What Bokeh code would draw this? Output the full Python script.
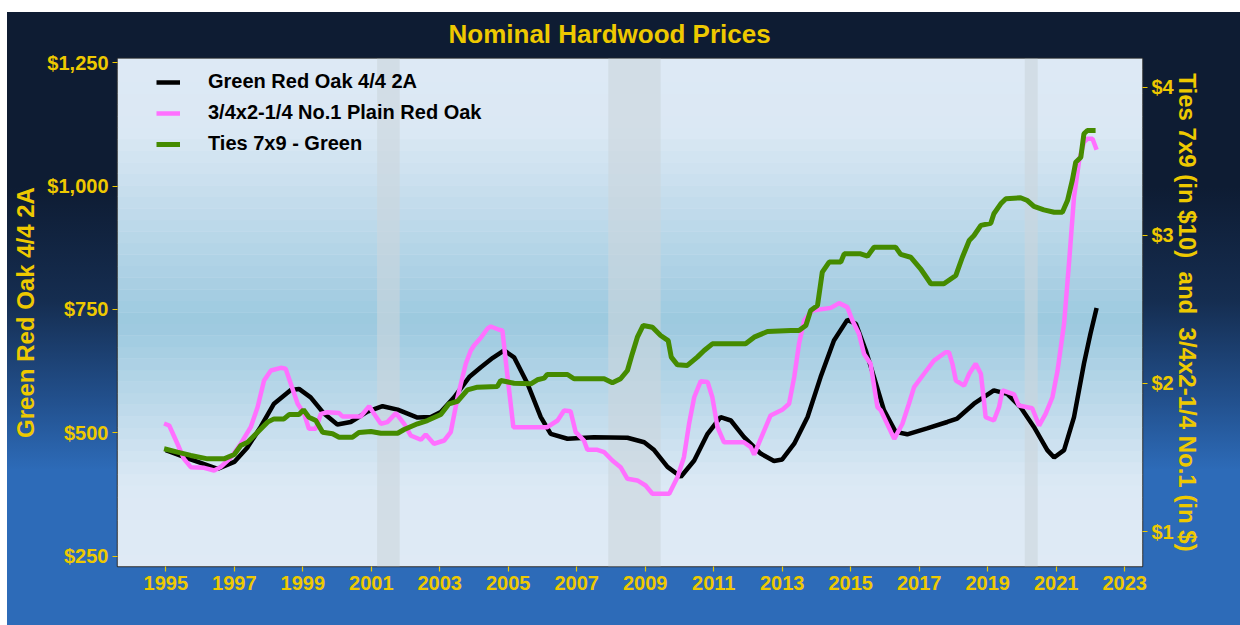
import numpy as np
from bokeh.plotting import figure
from bokeh.models import (Range1d, LinearAxis, FixedTicker, NumeralTickFormatter,
                          BoxAnnotation, InlineStyleSheet, Legend)
from bokeh.embed import file_html
from bokeh.resources import INLINE

# ---------------- data ----------------
oak_year = [1995.0, 1995.53, 1996.02, 1996.51, 1997.0, 1997.39, 1997.77, 1998.16, 1998.65, 1998.89,
            1999.23, 1999.62, 2000.01, 2000.4, 2000.89, 2001.33, 2001.77, 2002.35, 2002.74, 2003.03,
            2003.42, 2003.86, 2004.2, 2004.55, 2004.88, 2005.17, 2005.56, 2005.95, 2006.24, 2006.73,
            2007.5, 2008.48, 2008.97, 2009.26, 2009.65, 2010.04, 2010.43, 2010.82, 2011.2, 2011.5,
            2011.88, 2012.37, 2012.76, 2013.0, 2013.35, 2013.74, 2014.12, 2014.51, 2014.9, 2015.15,
            2015.44, 2015.68, 2015.97, 2016.31, 2016.65, 2017.23, 2017.82, 2018.11, 2018.6, 2019.18,
            2019.57, 2019.96, 2020.35, 2020.74, 2020.94, 2021.23, 2021.52, 2021.81, 2022.0, 2022.18]
oak_price = [465, 451, 439, 427, 441, 471, 512, 559, 587, 589,
             572, 539, 517, 522, 543, 554, 547, 531, 532, 542,
             572, 613, 633, 652, 667, 653, 600, 532, 498, 488,
             491, 490, 481, 465, 431, 411, 444, 498, 532, 525,
             492, 458, 443, 446, 478, 532, 613, 687, 729, 721,
             667, 613, 546, 502, 497, 509, 522, 529, 559, 586,
             579, 552, 512, 465, 450, 465, 532, 640, 701, 753]

plain_year = [1994.95, 1995.1, 1995.34, 1995.53, 1995.73, 1996.12, 1996.41, 1996.6, 1996.9, 1997.19,
              1997.48, 1997.68, 1997.87, 1998.07, 1998.36, 1998.5, 1998.65, 1998.85, 1999.04, 1999.18,
              1999.38, 1999.53, 1999.72, 2000.06, 2000.16, 2000.69, 2000.94, 2001.08, 2001.28, 2001.47,
              2001.72, 2001.96, 2002.15, 2002.45, 2002.59, 2002.83, 2003.13, 2003.32, 2003.52, 2003.76,
              2003.9, 2004.0, 2004.2, 2004.39, 2004.49, 2004.73, 2004.83, 2004.98, 2005.15, 2006.14,
              2006.44, 2006.63, 2006.82, 2006.97, 2007.21, 2007.31, 2007.6, 2007.8, 2008.04, 2008.28,
              2008.48, 2008.77, 2009.01, 2009.21, 2009.7, 2009.94, 2010.13, 2010.28, 2010.43, 2010.62,
              2010.82, 2010.96, 2011.11, 2011.3, 2011.88, 2012.08, 2012.18, 2012.37, 2012.66, 2013.0,
              2013.2, 2013.35, 2013.49, 2013.64, 2013.88, 2014.42, 2014.66, 2014.9, 2015.05, 2015.24,
              2015.39, 2015.58, 2015.78, 2015.88, 2016.27, 2016.51, 2016.7, 2016.85, 2017.14, 2017.43,
              2017.77, 2017.87, 2017.97, 2018.07, 2018.31, 2018.46, 2018.65, 2018.8, 2018.89, 2018.94,
              2019.18, 2019.33, 2019.43, 2019.77, 2019.91, 2020.3, 2020.5, 2020.69, 2020.89, 2021.04,
              2021.23, 2021.38, 2021.52, 2021.67, 2021.81, 2021.91, 2022.06, 2022.18]
plain_price = [1.73, 1.716, 1.593, 1.491, 1.435, 1.43, 1.412, 1.435, 1.50, 1.593,
               1.705, 1.84, 2.02, 2.088, 2.106, 2.10, 1.998, 1.863, 1.795, 1.694,
               1.694, 1.795, 1.806, 1.80, 1.777, 1.777, 1.847, 1.795, 1.728, 1.739,
               1.80, 1.728, 1.649, 1.62, 1.655, 1.593, 1.615, 1.671, 1.907, 2.133,
               2.22, 2.257, 2.309, 2.37, 2.385, 2.363, 2.358, 2.043, 1.705, 1.705,
               1.75, 1.818, 1.813, 1.671, 1.615, 1.552, 1.552, 1.536, 1.48, 1.435,
               1.356, 1.345, 1.311, 1.255, 1.255, 1.367, 1.502, 1.728, 1.907, 2.016,
               2.01, 1.907, 1.705, 1.603, 1.603, 1.57, 1.52, 1.626, 1.784, 1.822,
               1.863, 2.043, 2.268, 2.426, 2.493, 2.511, 2.543, 2.516, 2.426, 2.336,
               2.2, 2.133, 1.84, 1.818, 1.626, 1.728, 1.863, 1.975, 2.066, 2.155,
               2.211, 2.211, 2.133, 2.02, 1.986, 2.066, 2.133, 2.066, 1.885, 1.772,
               1.75, 1.84, 1.953, 1.926, 1.851, 1.833, 1.716, 1.795, 1.907, 2.088,
               2.403, 2.831, 3.259, 3.507, 3.63, 3.653, 3.653, 3.579]

ties_year = [1994.95, 1995.34, 1995.73, 1996.22, 1996.7, 1997.0, 1997.19, 1997.39, 1997.68, 1997.97,
             1998.16, 1998.45, 1998.6, 1998.89, 1999.02, 1999.18, 1999.38, 1999.58, 1999.87, 2000.06,
             2000.45, 2000.64, 2000.99, 2001.28, 2001.77, 2001.96, 2002.35, 2002.64, 2003.03, 2003.27,
             2003.52, 2003.81, 2004.1, 2004.68, 2004.78, 2005.17, 2005.66, 2005.85, 2006.05, 2006.14,
             2006.73, 2006.92, 2007.8, 2008.04, 2008.28, 2008.48, 2008.62, 2008.77, 2008.94, 2009.21,
             2009.45, 2009.67, 2009.76, 2009.94, 2010.23, 2010.52, 2010.72, 2010.96, 2011.93, 2012.18,
             2012.57, 2013.25, 2013.49, 2013.69, 2013.83, 2014.03, 2014.17, 2014.37, 2014.71, 2014.81,
             2015.29, 2015.49, 2015.68, 2016.31, 2016.46, 2016.75, 2017.04, 2017.34, 2017.72, 2018.07,
             2018.26, 2018.46, 2018.6, 2018.8, 2019.09, 2019.18, 2019.38, 2019.53, 2019.96, 2020.16,
             2020.35, 2020.64, 2020.94, 2021.18, 2021.33, 2021.47, 2021.57, 2021.72, 2021.81, 2021.91,
             2022.15]
ties_price = [1.559, 1.536, 1.514, 1.491, 1.491, 1.52, 1.581, 1.603, 1.671, 1.739,
              1.761, 1.761, 1.79, 1.79, 1.822, 1.772, 1.75, 1.671, 1.66, 1.637,
              1.637, 1.669, 1.676, 1.664, 1.664, 1.689, 1.728, 1.75, 1.79, 1.863,
              1.88, 1.957, 1.975, 1.98, 2.02, 2.002, 1.998, 2.025, 2.036, 2.061,
              2.061, 2.032, 2.032, 2.005, 2.032, 2.088, 2.20, 2.313, 2.392, 2.38,
              2.324, 2.29, 2.178, 2.126, 2.122, 2.178, 2.223, 2.268, 2.268, 2.313,
              2.351, 2.358, 2.358, 2.392, 2.493, 2.527, 2.752, 2.82, 2.82, 2.876,
              2.876, 2.86, 2.921, 2.921, 2.872, 2.853, 2.775, 2.674, 2.674, 2.73,
              2.853, 2.966, 3.0, 3.068, 3.083, 3.147, 3.214, 3.248, 3.255, 3.236,
              3.196, 3.173, 3.157, 3.157, 3.236, 3.372, 3.495, 3.529, 3.687, 3.709,
              3.709]

rec_start = [2001.17, 2007.92, 2020.08]
rec_end = [2001.83, 2009.45, 2020.46]

x_ticks = [1995, 1997, 1999, 2001, 2003, 2005, 2007, 2009, 2011, 2013, 2015, 2017, 2019, 2021, 2023]
left_ticks = [250, 500, 750, 1000, 1250]
right_ticks = [1, 2, 3, 4]

series_names = ["Green Red Oak 4/4 2A", "3/4x2-1/4 No.1 Plain Red Oak", "Ties 7x9 - Green"]

# ---------------- styling ----------------
GOLD = "#EEC900"
FONT = "Liberation Sans"
Y0, Y1 = 229.1, 1258.7
SCALE = 300.0

p = figure(width=1240, height=625, output_backend="svg", toolbar_location=None,
           x_range=Range1d(1993.59, 2023.52), y_range=Range1d(Y0, Y1),
           min_border_left=117, min_border_right=98, min_border_top=58, min_border_bottom=59)
p.extra_y_ranges = {"r": Range1d(Y0 / SCALE, Y1 / SCALE)}

p.border_fill_color = None
p.stylesheets = [InlineStyleSheet(css=(
    ":host { background: "
    "linear-gradient(to right, #ffffff 0px, #ffffff 7px, transparent 7px), "
    "linear-gradient(to bottom, #ffffff 0px, #ffffff 12px, #0e1c33 12px, #0e1c33 187px, "
    "#152d50 300px, #22508d 400px, #2d6bb8 470px, #2d6bb8 100%); }"))]
p.background_fill_color = "#dde9f5"
p.outline_line_color = "#2b2b2b"
p.outline_line_width = 1.5
p.grid.visible = False

# frame gradient (styling bands)
stops_f = [0.0, 0.163, 0.48, 0.858, 1.0]
stops_c = np.array([(223, 234, 245), (220, 233, 245), (156, 201, 223), (219, 232, 244), (221, 233, 245)], float)
nb = 44
for i in range(nb):
    f0, f1 = i / nb, (i + 1) / nb
    fm = 0.5 * (f0 + f1)
    c = [int(round(np.interp(fm, stops_f, stops_c[:, k]))) for k in range(3)]
    p.add_layout(BoxAnnotation(bottom=Y0 + f0 * (Y1 - Y0), top=Y0 + f1 * (Y1 - Y0) + 0.5,
                               fill_color="#%02x%02x%02x" % tuple(c), fill_alpha=1.0,
                               line_color=None, level="underlay"))

for s, e in zip(rec_start, rec_end):
    p.add_layout(BoxAnnotation(left=s, right=e, fill_color="#ccd5dc", fill_alpha=0.6,
                               line_color=None, level="underlay"))

r1 = p.line(oak_year, oak_price, line_color="black", line_width=4.5)
r2 = p.line(plain_year, plain_price, line_color="#ff70ff", line_width=4.5, y_range_name="r")
r3 = p.line(ties_year, ties_price, line_color="#458B00", line_width=5, y_range_name="r")

legend = Legend(items=[(series_names[0], [r1]), (series_names[1], [r2]), (series_names[2], [r3])],
                location=(39, 411), padding=0, margin=0, spacing=8,
                glyph_width=24, glyph_height=22, label_height=22, label_standoff=28,
                label_text_font=FONT, label_text_font_style="bold", label_text_font_size="20px",
                label_text_color="black", background_fill_alpha=0, border_line_color=None)
p.add_layout(legend)

p.title.text = "Nominal Hardwood Prices"
p.title.text_color = GOLD
p.title.text_font = FONT
p.title.text_font_style = "bold"
p.title.text_font_size = "26px"
p.title.align = "left"
p.title.offset = 331
p.title.standoff = 20

p.xaxis.ticker = FixedTicker(ticks=x_ticks)
p.yaxis.ticker = FixedTicker(ticks=left_ticks)
p.yaxis.formatter = NumeralTickFormatter(format="$0,0")
p.yaxis.axis_label = series_names[0]

ax_r = LinearAxis(y_range_name="r", ticker=FixedTicker(ticks=right_ticks),
                  formatter=NumeralTickFormatter(format="$0"),
                  axis_label="Ties 7x9 (in $10)\u00a0\u00a0and\u00a0\u00a03/4x2-1/4 No.1 (in $)")
p.add_layout(ax_r, "right")

for ax in [p.xaxis[0], p.yaxis[0], ax_r]:
    ax.major_label_text_color = GOLD
    ax.major_label_text_font = FONT
    ax.major_label_text_font_style = "bold"
    ax.major_label_text_font_size = "20px"
    ax.major_tick_line_color = GOLD
    ax.major_tick_line_width = 1.2
    ax.major_tick_out = 5
    ax.major_tick_in = 0
    ax.minor_tick_line_color = None
    ax.axis_line_color = None
    ax.major_label_standoff = 4
    ax.axis_label_text_color = GOLD
    ax.axis_label_text_font = FONT
    ax.axis_label_text_font_style = "bold"
    ax.axis_label_text_font_size = "24px"
    ax.axis_label_standoff = 5
ax_r.axis_label_standoff = -3

open("out.html", "w").write(file_html(p, INLINE))
